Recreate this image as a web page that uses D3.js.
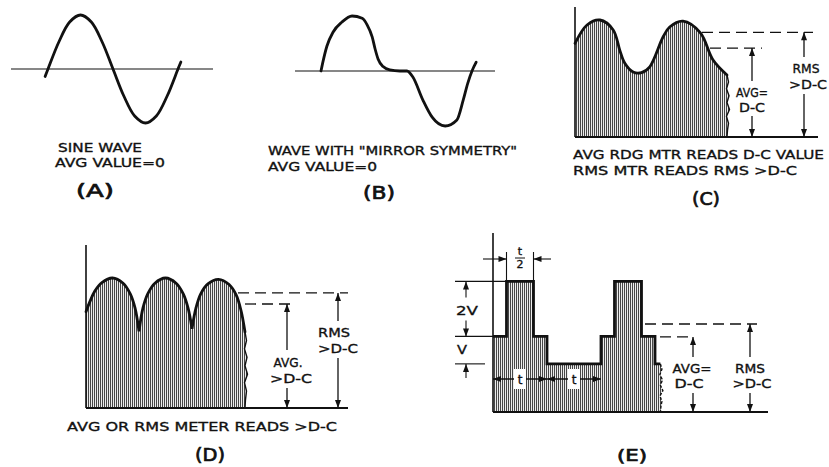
<!DOCTYPE html>
<html>
<head>
<meta charset="utf-8">
<script src="https://cdn.jsdelivr.net/npm/d3@7"></script>
<style>
  body { margin: 0; background: #fff; }
  svg text { font-family: "DejaVu Sans", sans-serif; fill: #111; stroke: #111; stroke-width: 0.35px; }
  svg text.big { stroke-width: 0.7px; }
</style>
</head>
<body>
<script>
var w = 829, h = 467;

// (A) sine wave: phase in degrees, relative amplitude
var sineT = [-8, 0, 30, 60, 90, 120, 150, 180, 210, 240, 270, 300, 330, 360, 368];
var sineV = [-0.14, 0, 0.5, 0.87, 1, 0.87, 0.5, 0, -0.5, -0.87, -1, -0.87, -0.5, 0, 0.13];

// (B) wave with mirror symmetry
var mirrorT = [0, 5, 14, 29, 50, 74, 98, 110, 122, 129, 136, 148, 164, 188, 205, 219, 243, 265, 296, 324, 339, 350, 360, 370];
var mirrorV = [0, 0.18, 0.45, 0.71, 0.89, 1, 0.96, 0.84, 0.62, 0.40, 0.22, 0.08, 0.02, 0, 0, -0.11, -0.53, -0.84, -1, -0.89, -0.53, -0.22, 0, 0.16];

// (C) ripple on d-c (relative to peak)
var dcT = [0, 0.145, 0.30, 0.46, 0.54, 0.60, 0.70, 0.80, 0.90, 1.06, 1.14, 1.30, 1.51, 1.66, 1.83];
var dcV = [0.80, 0.957, 1.0, 0.915, 0.74, 0.63, 0.555, 0.55, 0.60, 0.855, 0.94, 0.99, 0.89, 0.66, 0.53];
var dcAvg = 0.76, dcRms = 0.895;

// (D) rectified arches, one list per arch
var archF = [0, 0.075, 0.167, 0.3, 0.5, 0.7, 0.833, 0.925, 1];
var archV = [
  [0.74, 0.82, 0.90, 0.965, 1.0, 0.96, 0.88, 0.77, 0.59],
  [0.59, 0.77, 0.88, 0.96, 1.0, 0.96, 0.88, 0.77, 0.61],
  [0.61, 0.77, 0.88, 0.955, 0.99, 0.95, 0.87, 0.75, 0.585]
];
var archAvg = 0.80, archRms = 0.885;

// (E) stepped wave: time in t, level in V
var stepT = [0, 0.25, 0.75, 1, 2, 2.25, 2.75, 3, 3.1];
var stepV = [2.75, 4.75, 2.75, 1.75, 2.75, 4.75, 2.75, 1.75, 1.75];
var stepAvg = 2.73, stepRms = 3.2;

// texts
var capA = ["SINE WAVE", "AVG VALUE=0", "(A)"];
var capB = ["WAVE WITH \"MIRROR SYMMETRY\"", "AVG VALUE=0", "(B)"];
var capC = ["AVG RDG MTR READS D-C VALUE", "RMS MTR READS RMS >D-C", "(C)"];
var capD = ["AVG OR RMS METER READS >D-C", "(D)"];
var capE = ["(E)"];
var lblAvgC = ["AVG=", "D-C"], lblRmsC = ["RMS", ">D-C"];
var lblAvgD = ["AVG.", ">D-C"], lblRmsD = ["RMS", ">D-C"];
var lblAvgE = ["AVG=", "D-C"], lblRmsE = ["RMS", ">D-C"];

// little wobble of the torn right edge
var wiggle = [0, 1.5, -0.5, 2, 0, 2.5, -0.5, 1.5, 0.5, 0];

var svg = d3.select("body").append("svg")
  .attr("width", w).attr("height", h);

var defs = svg.append("defs");
var pat = defs.append("pattern").attr("id", "hatch")
  .attr("patternUnits", "userSpaceOnUse").attr("width", 2).attr("height", 8);
pat.append("rect").attr("width", 2).attr("height", 8).attr("fill", "#ececec")
  .attr("shape-rendering", "crispEdges");
pat.append("rect").attr("width", 1).attr("height", 8).attr("fill", "#474747")
  .attr("shape-rendering", "crispEdges");

var ink = "#111";

function curve(xs, ys, xS, yS, c) {
  return d3.line().curve(c || d3.curveCatmullRom.alpha(0.5))
    .x(function (d) { return xS(d[0]); })
    .y(function (d) { return yS(d[1]); })(d3.zip(xs, ys));
}

function edgePath(x, yTop, yBot) {
  var n = wiggle.length - 1;
  return wiggle.map(function (dx, i) {
    return "L" + (x + dx) + "," + (yTop + (yBot - yTop) * i / n);
  }).join("");
}

function line(g, x1, y1, x2, y2, sw) {
  return g.append("line").attr("x1", x1).attr("y1", y1).attr("x2", x2).attr("y2", y2)
    .attr("stroke", ink).attr("stroke-width", sw || 1.3);
}

function dash(g, x1, x2, y) {
  line(g, x1, y, x2, y, 1.3).attr("stroke-dasharray", "11,6");
}

function head(g, x, y, dir) {
  var L = 8, W = 3, p;
  if (dir === "up") p = [[x, y], [x - W, y + L], [x + W, y + L]];
  if (dir === "down") p = [[x, y], [x - W, y - L], [x + W, y - L]];
  if (dir === "left") p = [[x, y], [x + L, y - W], [x + L, y + W]];
  if (dir === "right") p = [[x, y], [x - L, y - W], [x - L, y + W]];
  g.append("path").attr("d", "M" + p.join("L") + "Z").attr("fill", ink);
}

function dimV(g, x, yTop, yBot, gap) {
  if (gap) {
    line(g, x, yTop, x, gap[0]);
    line(g, x, gap[1], x, yBot);
  } else {
    line(g, x, yTop, x, yBot);
  }
  head(g, x, yTop, "up");
  head(g, x, yBot, "down");
}

function txt(g, s, x, y, len, size, anchor) {
  var t = g.append("text").attr("x", x).attr("y", y)
    .attr("font-size", size || 13.5)
    .attr("text-anchor", anchor || "start")
    .text(s);
  if (len) t.attr("textLength", len).attr("lengthAdjust", "spacingAndGlyphs");
  if (size >= 16) t.attr("class", "big");
  return t;
}

// ---------- (A) ----------
var gA = svg.append("g");
var xA = d3.scaleLinear().domain([0, 360]).range([48, 178]);
var yA = d3.scaleLinear().domain([-1, 1]).range([123, 15]);
line(gA, 11, yA(0), 213, yA(0), 1.2);
gA.append("path").attr("d", curve(sineT, sineV, xA, yA))
  .attr("fill", "none").attr("stroke", ink).attr("stroke-width", 2.8).attr("stroke-linecap", "round");
txt(gA, capA[0], 58, 152, 84, 12.5);
txt(gA, capA[1], 55, 167, 110, 12.5);
txt(gA, capA[2], 95, 197, 38, 17, "middle");

// ---------- (B) ----------
var gB = svg.append("g");
var xB = d3.scaleLinear().domain([0, 360]).range([321, 472]);
var yB = d3.scaleLinear().domain([-1, 1]).range([126, 16]);
line(gB, 295, yB(0), 495, yB(0), 1.2);
gB.append("path").attr("d", curve(mirrorT, mirrorV, xB, yB, d3.curveMonotoneX))
  .attr("fill", "none").attr("stroke", ink).attr("stroke-width", 2.8).attr("stroke-linecap", "round");
txt(gB, capB[0], 268, 155, 249, 12.5);
txt(gB, capB[1], 268, 171, 109, 12.5);
txt(gB, capB[2], 379, 199, 32, 17, "middle");

// ---------- (C) ----------
var gC = svg.append("g");
var xC = d3.scaleLinear().domain([0, 1.83]).range([575, 727]);
var yC = d3.scaleLinear().domain([0, 1]).range([137, 20]);
var cLine = curve(dcT, dcV, xC, yC);
var cEnd = xC(dcT[dcT.length - 1]), cEndY = yC(dcV[dcV.length - 1]);
gC.append("path")
  .attr("d", cLine + edgePath(cEnd, cEndY, yC(0)) + "L" + xC(0) + "," + yC(0) + "Z")
  .attr("fill", "url(#hatch)");
gC.append("path").attr("d", cLine)
  .attr("fill", "none").attr("stroke", ink).attr("stroke-width", 2.8).attr("stroke-linecap", "round");
gC.append("path").attr("d", "M" + cEnd + "," + cEndY + edgePath(cEnd, cEndY, yC(0)))
  .attr("fill", "none").attr("stroke", ink).attr("stroke-width", 1.4);
line(gC, xC(0), 7, xC(0), yC(0), 1.6);
line(gC, xC(0), yC(0), 818, yC(0), 2.2);
dash(gC, 702, 813, yC(dcRms));
dash(gC, 710, 762, yC(dcAvg));
dimV(gC, 752, yC(dcAvg), yC(0), [81, 116]);
dimV(gC, 804, yC(dcRms), yC(0), [57, 94]);
txt(gC, lblAvgC[0], 752, 97, 32, 13, "middle");
txt(gC, lblAvgC[1], 752, 112, 26, 13, "middle");
txt(gC, lblRmsC[0], 806, 73, 27, 13, "middle");
txt(gC, lblRmsC[1], 808, 89, 38, 13, "middle");
txt(gC, capC[0], 573, 159, 251, 13);
txt(gC, capC[1], 573, 175, 224, 13);
txt(gC, capC[2], 706, 205, 28, 17, "middle");

// ---------- (D) ----------
var gD = svg.append("g");
var xD = d3.scaleLinear().domain([0, 3]).range([86, 245]);
var yD = d3.scaleLinear().domain([0, 1]).range([408, 278]);
var dLine = archV.map(function (vals, i) {
  var p = curve(archF.map(function (f) { return i + f; }), vals, xD, yD);
  return i === 0 ? p : "L" + p.slice(1);
}).join("");
var lastArch = archV[archV.length - 1];
var dEnd = xD(3), dEndY = yD(lastArch[lastArch.length - 1]);
gD.append("path")
  .attr("d", dLine + edgePath(dEnd, dEndY, yD(0)) + "L" + xD(0) + "," + yD(0) + "Z")
  .attr("fill", "url(#hatch)");
gD.append("path").attr("d", dLine)
  .attr("fill", "none").attr("stroke", ink).attr("stroke-width", 2.8)
  .attr("stroke-linecap", "round").attr("stroke-linejoin", "miter");
gD.append("path").attr("d", "M" + dEnd + "," + dEndY + edgePath(dEnd, dEndY, yD(0)))
  .attr("fill", "none").attr("stroke", ink).attr("stroke-width", 1.4);
line(gD, xD(0), 245, xD(0), yD(0), 1.6);
line(gD, xD(0), yD(0), 348, yD(0), 2.2);
dash(gD, 238, 348, yD(archRms));
dash(gD, 245, 295, yD(archAvg));
dimV(gD, 287, yD(archAvg), yD(0), [350, 388]);
dimV(gD, 338, yD(archRms), yD(0), [321, 358]);
txt(gD, lblAvgD[0], 288, 367, 29, 13, "middle");
txt(gD, lblAvgD[1], 291, 383, 42, 13, "middle");
txt(gD, lblRmsD[0], 334, 337, 32, 13, "middle");
txt(gD, lblRmsD[1], 338, 353, 40, 13, "middle");
txt(gD, capD[0], 67, 431, 270, 13);
txt(gD, capD[1], 210, 461, 30, 17, "middle");

// ---------- (E) ----------
var gE = svg.append("g");
var xE = d3.scaleLinear().domain([0, 1]).range([493, 547]);
var yE = d3.scaleLinear().domain([0, 1]).range([412, 384.5]);
var eLine = d3.line().curve(d3.curveStepAfter)
  .x(function (d) { return xE(d[0]); })
  .y(function (d) { return yE(d[1]); })(d3.zip(stepT, stepV));
var eEnd = xE(stepT[stepT.length - 1]), eEndY = yE(stepV[stepV.length - 1]);
gE.append("path")
  .attr("d", eLine + edgePath(eEnd, eEndY, yE(0)) + "L" + xE(0) + "," + yE(0) + "Z")
  .attr("fill", "url(#hatch)");
gE.append("path").attr("d", eLine)
  .attr("fill", "none").attr("stroke", ink).attr("stroke-width", 2.8).attr("stroke-linejoin", "miter");
gE.append("path").attr("d", "M" + eEnd + "," + eEndY + edgePath(eEnd, eEndY, yE(0)))
  .attr("fill", "none").attr("stroke", ink).attr("stroke-width", 1.4)
  .attr("stroke-dasharray", "3,1.5");
line(gE, xE(0), 233, xE(0), yE(0), 1.6);
line(gE, xE(0), yE(0), 768, yE(0), 2.2);
dash(gE, 645, 757, yE(stepRms));
dash(gE, 660, 692, yE(stepAvg));
dimV(gE, 693, yE(stepAvg), yE(0), [357, 393]);
dimV(gE, 750, yE(stepRms), yE(0), [357, 393]);
txt(gE, lblAvgE[0], 692, 373, 39, 13, "middle");
txt(gE, lblAvgE[1], 689, 388, 29, 13, "middle");
txt(gE, lblRmsE[0], 750, 373, 30, 13, "middle");
txt(gE, lblRmsE[1], 752, 388, 39, 13, "middle");
txt(gE, capE[0], 632, 461, 30, 16, "middle");

// level dimensions on the left (V and 2V)
var vTop = yE(4.75), vMid = yE(2.75), vLow = yE(1.75);
line(gE, 455, vTop, xE(0.25), vTop, 1.1);
line(gE, 455, vMid, xE(0), vMid, 1.1);
line(gE, 455, vLow, 485, vLow, 1.1);
line(gE, 466, vTop, 466, vTop + 16, 1.1);
line(gE, 466, vMid - 16, 466, vMid, 1.1);
line(gE, 466, vLow, 466, vLow + 14, 1.1);
head(gE, 466, vTop, "up");
head(gE, 466, vMid, "down");
head(gE, 466, vLow, "up");
txt(gE, "2V", 467, 315, 22, 13, "middle");
txt(gE, "V", 462, 354, 10, 13, "middle");

// t/2 dimension over the first pulse
var tA = xE(0.25), tB = xE(0.75);
line(gE, tA, 252, tA, vTop, 1.1);
line(gE, tB, 252, tB, vTop, 1.1);
line(gE, 483, 259, tA, 259, 1.1);
line(gE, tB, 259, 551, 259, 1.1);
head(gE, tA, 259, "right");
head(gE, tB, 259, "left");
txt(gE, "t", (tA + tB) / 2, 255, null, 11, "middle");
line(gE, (tA + tB) / 2 - 5, 258, (tA + tB) / 2 + 5, 258, 1);
txt(gE, "2", (tA + tB) / 2, 268, null, 11, "middle");

// t dimensions inside the wave
var tY = yE(1.2);
[[0, 1], [1, 2]].forEach(function (seg) {
  var a = xE(seg[0]), b = xE(seg[1]), m = (a + b) / 2;
  line(gE, a, tY, b, tY, 1.3);
  head(gE, a, tY, "left");
  head(gE, b, tY, "right");
  gE.append("rect").attr("x", m - 6).attr("y", tY - 10).attr("width", 12).attr("height", 20).attr("fill", "#fff");
  txt(gE, "t", m, tY + 5, null, 12, "middle");
});
</script>
</body>
</html>
